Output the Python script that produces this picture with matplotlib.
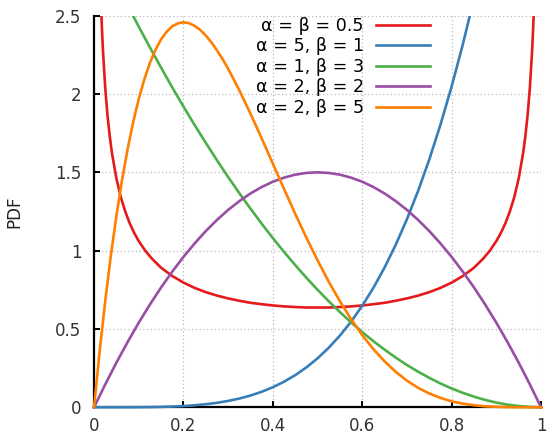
import matplotlib
matplotlib.use("Agg")
from matplotlib import pyplot as plt
from matplotlib.patches import Rectangle
from matplotlib.ticker import FuncFormatter

# values
x_red = [0.01, 0.0125, 0.015, 0.0175, 0.02, 0.025, 0.03, 0.035, 0.04, 0.05, 0.06, 0.07,
         0.08, 0.09, 0.1, 0.115, 0.13, 0.15, 0.175, 0.2, 0.225, 0.25, 0.275, 0.3,
         0.325, 0.35, 0.375, 0.4, 0.425, 0.45, 0.475, 0.5,
         0.525, 0.55, 0.575, 0.6, 0.625, 0.65, 0.675, 0.7, 0.725, 0.75, 0.775, 0.8,
         0.825, 0.85, 0.87, 0.885, 0.9, 0.91, 0.92, 0.93, 0.94, 0.95, 0.96, 0.965,
         0.97, 0.975, 0.98, 0.9825, 0.985, 0.9875, 0.99]
y_red = [3.199, 2.865, 2.619, 2.428, 2.274, 2.039, 1.866, 1.732, 1.624, 1.461, 1.340, 1.248,
         1.173, 1.112, 1.061, 0.998, 0.947, 0.891, 0.838, 0.796, 0.762, 0.735, 0.713, 0.695,
         0.680, 0.667, 0.658, 0.650, 0.644, 0.640, 0.637, 0.637,
         0.637, 0.640, 0.644, 0.650, 0.658, 0.667, 0.680, 0.695, 0.713, 0.735, 0.762, 0.796,
         0.838, 0.891, 0.947, 0.998, 1.061, 1.112, 1.173, 1.248, 1.340, 1.461, 1.624, 1.732,
         1.866, 2.039, 2.274, 2.428, 2.619, 2.865, 3.199]

x_step = [0, 0.025, 0.05, 0.075, 0.1, 0.125, 0.15, 0.175, 0.2, 0.225, 0.25, 0.275,
          0.3, 0.325, 0.35, 0.375, 0.4, 0.425, 0.45, 0.475, 0.5, 0.525, 0.55, 0.575,
          0.6, 0.625, 0.65, 0.675, 0.7, 0.725, 0.75, 0.775, 0.8, 0.825, 0.85, 0.875,
          0.9, 0.925, 0.95, 0.975, 1.0]
y_blue = [0, 0, 0.0000, 0.0002, 0.0005, 0.0012, 0.0025, 0.0047, 0.008, 0.0128, 0.0195, 0.0286,
          0.0405, 0.0558, 0.075, 0.0989, 0.128, 0.1631, 0.205, 0.2545, 0.3125, 0.3798, 0.4575, 0.5466,
          0.648, 0.7629, 0.8925, 1.038, 1.2005, 1.3814, 1.582, 1.8038, 2.048, 2.3163, 2.61, 2.931,
          3.2805, 3.66, 4.07, 4.52, 5.0]
y_green = [3.0, 2.852, 2.708, 2.567, 2.43, 2.297, 2.168, 2.042, 1.92, 1.802, 1.688, 1.577,
           1.47, 1.367, 1.268, 1.172, 1.08, 0.992, 0.908, 0.827, 0.75, 0.677, 0.608, 0.542,
           0.48, 0.422, 0.368, 0.317, 0.27, 0.227, 0.188, 0.152, 0.12, 0.092, 0.068, 0.047,
           0.03, 0.017, 0.008, 0.002, 0]
y_purple = [0, 0.146, 0.285, 0.416, 0.54, 0.656, 0.765, 0.866, 0.96, 1.046, 1.125, 1.196,
            1.26, 1.316, 1.365, 1.406, 1.44, 1.466, 1.485, 1.496, 1.5, 1.496, 1.485, 1.466,
            1.44, 1.406, 1.365, 1.316, 1.26, 1.196, 1.125, 1.046, 0.96, 0.866, 0.765, 0.656,
            0.54, 0.416, 0.285, 0.146, 0]

x_orange = [0, 0.0125, 0.025, 0.0375, 0.05, 0.0625, 0.075, 0.0875, 0.1, 0.1125, 0.125, 0.1375,
            0.15, 0.1625, 0.175, 0.1875, 0.2, 0.2125, 0.225, 0.2375, 0.25, 0.2625, 0.275, 0.2875,
            0.3, 0.325, 0.35, 0.375, 0.4, 0.425, 0.45, 0.475, 0.5, 0.525, 0.55, 0.575,
            0.6, 0.625, 0.65, 0.675, 0.7, 0.725, 0.75, 0.775, 0.8, 0.825, 0.85, 0.875,
            0.9, 0.925, 0.95, 0.975, 1.0]
y_orange = [0, 0.357, 0.678, 0.966, 1.222, 1.448, 1.647, 1.820, 1.968, 2.094, 2.198, 2.283,
            2.349, 2.398, 2.432, 2.451, 2.458, 2.452, 2.435, 2.409, 2.373, 2.330, 2.279, 2.223,
            2.161, 2.024, 1.874, 1.717, 1.555, 1.394, 1.235, 1.083, 0.938, 0.802, 0.677, 0.563,
            0.461, 0.371, 0.293, 0.226, 0.170, 0.124, 0.088, 0.060, 0.038, 0.023, 0.013, 0.006,
            0.003, 0.001, 0.0002, 0, 0]

series = [
    (x_red, y_red, "α = β = 0.5", "#e41a1c"),
    (x_step, y_blue, "α = 5, β = 1", "#377eb8"),
    (x_step, y_green, "α = 1, β = 3", "#4daf4a"),
    (x_step, y_purple, "α = 2, β = 2", "#984ea3"),
    (x_orange, y_orange, "α = 2, β = 5", "#ff7f00"),
]
x_ticks = [0, 0.2, 0.4, 0.6, 0.8, 1.0]
y_ticks = [0, 0.5, 1.0, 1.5, 2.0, 2.5]

plt.rcParams["font.family"] = "DejaVu Sans"
fig = plt.figure(figsize=(5.5, 4.44), dpi=100)
ax = fig.add_axes([0.171, 0.0827, 0.8127, 0.882])

clip = Rectangle((-0.01, -0.01), 1.02, 1.01, transform=ax.transAxes, visible=False)
ax.add_patch(clip)
for xs, ys, label, color in series:
    line, = ax.plot(xs, ys, color=color, lw=1.9, label=label, zorder=3)
    line.set_clip_path(clip)

ax.set_xlim(0, 1)
ax.set_ylim(0, 2.5)
ax.set_xticks(x_ticks)
ax.set_yticks(y_ticks)
fmt = FuncFormatter(lambda v, p: "%g" % v)
ax.xaxis.set_major_formatter(fmt)
ax.yaxis.set_major_formatter(fmt)
ax.tick_params(direction="in", length=4, width=1.4, labelsize=12, colors="black")
ax.tick_params(axis="x", pad=7, labelcolor="#333333")
ax.tick_params(axis="y", pad=9, labelcolor="#333333")
for side in ["top", "right"]:
    ax.spines[side].set_visible(False)
for side in ["left", "bottom"]:
    ax.spines[side].set_linewidth(1.6)
ax.grid(True, ls=(0, (1, 2)), color="#b8b8b8", lw=0.9)
ax.set_ylabel("PDF", fontsize=12, labelpad=23, color="#222222")

ax.legend(loc="upper right", bbox_to_anchor=(0.752, 0.997), frameon=False,
          markerfirst=False, fontsize=12.6, borderpad=0, borderaxespad=0,
          handlelength=3.1, handletextpad=0.7, labelspacing=0.14)

plt.savefig("out.png", dpi=100)
